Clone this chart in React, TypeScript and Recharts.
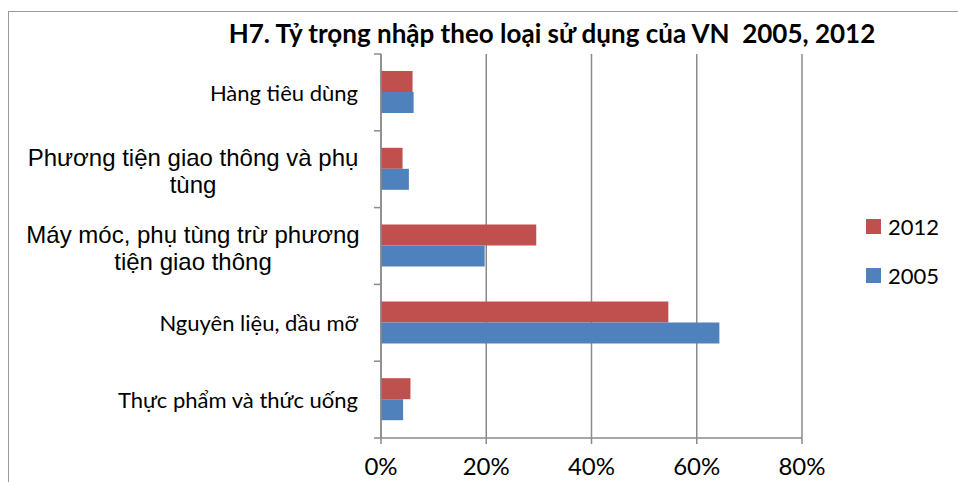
import { BarChart, Bar, XAxis, YAxis, CartesianGrid, Legend } from 'recharts';

const categories = [
  'Hàng tiêu dùng',
  'Phương tiện giao thông và phụ tùng',
  'Máy móc, phụ tùng trừ phương tiện giao thông',
  'Nguyên liệu, dầu mỡ',
  'Thực phẩm và thức uống',
];
const share2012 = [0.06, 0.041, 0.295, 0.546, 0.056];
const share2005 = [0.062, 0.053, 0.197, 0.643, 0.042];
const xTicks = [0, 0.2, 0.4, 0.6, 0.8];
const seriesNames = ['2012', '2005'];

const data = categories.map((name, i) => ({
  name,
  y2012: share2012[i],
  y2005: share2005[i],
}));

// label wrapping as in the original chart
const wrapped: Record<string, string[]> = {
  'Phương tiện giao thông và phụ tùng': ['Phương tiện giao thông và phụ', 'tùng'],
  'Máy móc, phụ tùng trừ phương tiện giao thông': ['Máy móc, phụ tùng trừ phương', 'tiện giao thông'],
};

const W = 958;
const H = 482;
const margin = { top: 54, right: 156, bottom: 0, left: 0 };
const xAxisH = 44;
const plotTop = margin.top;
const plotBottom = H - xAxisH;
const band = (plotBottom - plotTop) / categories.length;
const axisX = 381;
const grey = '#8a8a8a';
const red = '#C0504D';
const blue = '#4F81BD';
const calibri = 'Lato, "Open Sans", sans-serif';
const arial = '"Liberation Sans", Arial, sans-serif';

function CategoryTick(props: any) {
  const { y, payload, index } = props;
  const lines = wrapped[payload.value];
  const marks = [y - band / 2];
  if (index === categories.length - 1) marks.push(y + band / 2);
  return (
    <g>
      {marks.map((my, k) => (
        <line key={k} x1={axisX - 7} x2={axisX} y1={my} y2={my} stroke={grey} strokeWidth={1.5} />
      ))}
      {lines ? (
        <text x={193} y={y} textAnchor="middle" fontFamily={arial} fontSize={24} fill="#000">
          {lines.map((l, k) => (
            <tspan key={k} x={193} y={y - 12 + k * 27} dominantBaseline="central">
              {l}
            </tspan>
          ))}
        </text>
      ) : (
        <text x={358} y={y} textAnchor="end" dominantBaseline="central" fontFamily={calibri} fontSize={22} fill="#000">
          {payload.value}
        </text>
      )}
    </g>
  );
}

function LegendBox() {
  const colors = [red, blue];
  return (
    <div style={{ position: 'absolute', left: 866, top: 212 }}>
      {seriesNames.map((s, i) => (
        <div key={s} style={{ display: 'flex', alignItems: 'center', height: 28, marginBottom: 21 }}>
          <span style={{ width: 15, height: 15, background: colors[i], display: 'inline-block', marginRight: 7 }} />
          <span style={{ fontFamily: calibri, fontSize: 22, color: '#000' }}>{s}</span>
        </div>
      ))}
    </div>
  );
}

export default function App() {
  return (
    <div style={{ position: 'absolute', left: 0, top: 0, width: W, height: H, overflow: 'hidden', background: '#fff' }}>
      <div
        style={{
          position: 'absolute',
          left: 8,
          top: 11,
          width: 2000,
          height: 2000,
          borderLeft: '1.5px solid #999',
          borderTop: '1.5px solid #999',
        }}
      />
      <div
        style={{
          position: 'absolute',
          left: 0,
          width: 1104,
          top: 16,
          textAlign: 'center',
          whiteSpace: 'pre',
          fontFamily: calibri,
          fontWeight: 'bold',
          fontSize: 26,
          lineHeight: '34px',
          color: '#000',
        }}
      >
        {'H7. Tỷ trọng nhập theo loại sử dụng của VN  2005, 2012'}
      </div>
      <BarChart
        width={W}
        height={H}
        data={data}
        layout="vertical"
        margin={margin}
        barCategoryGap={17}
        barGap={0}
        style={{ position: 'absolute', left: 0, top: 0 }}
      >
        <CartesianGrid horizontal={false} stroke={grey} strokeWidth={1.5} />
        <XAxis
          type="number"
          domain={[0, 0.8]}
          ticks={xTicks}
          height={xAxisH}
          tickFormatter={(v) => `${Math.round(v * 100)}%`}
          axisLine={{ stroke: grey, strokeWidth: 1.5 }}
          tickLine={{ stroke: grey, strokeWidth: 1.5 }}
          tickSize={6}
          tickMargin={14}
          tick={{ fill: '#000', fontSize: 24, fontFamily: calibri }}
        />
        <YAxis
          type="category"
          dataKey="name"
          width={axisX}
          axisLine={{ stroke: grey, strokeWidth: 1.5 }}
          tickLine={false}
          tick={<CategoryTick />}
          interval={0}
        />
        <Legend content={() => null} />
        <Bar dataKey="y2012" name={seriesNames[0]} fill={red} isAnimationActive={false} />
        <Bar dataKey="y2005" name={seriesNames[1]} fill={blue} isAnimationActive={false} />
      </BarChart>
      <LegendBox />
    </div>
  );
}
